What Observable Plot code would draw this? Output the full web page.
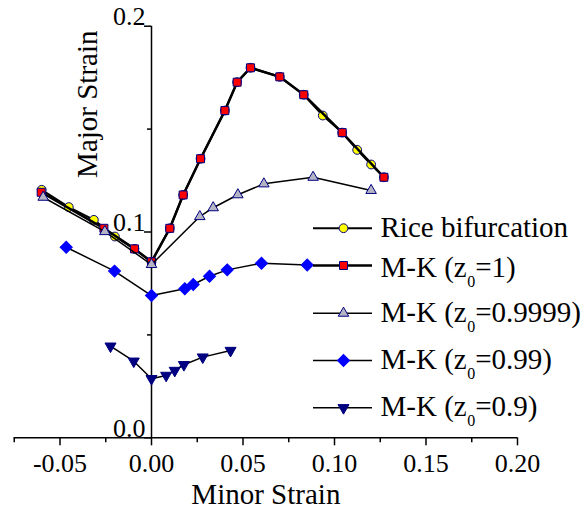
<!DOCTYPE html>
<html><head><meta charset="utf-8">
<script src="https://cdn.jsdelivr.net/npm/d3@7"></script>
<script src="https://cdn.jsdelivr.net/npm/@observablehq/plot@0.6"></script>
<style>
body{margin:0;background:#fff;font-family:'Liberation Serif',serif}
#wrap{position:relative;width:588px;height:513px;background:#fff}
</style>
</head><body><div id="wrap"></div>
<script>
// ---- data (minor strain x, major strain y) ----
const riceX = [-0.0600,-0.0452,-0.0315,-0.0200,-0.0093,0.0000,0.0100,0.0173,0.0268,0.0401,0.0468,0.0541,0.0701,0.0832,0.0936,0.1042,0.1124,0.1200,0.1270];
const riceY = [0.1205,0.1121,0.1059,0.0978,0.0918,0.0855,0.1018,0.1180,0.1356,0.1590,0.1728,0.1798,0.1754,0.1667,0.1566,0.1483,0.1399,0.1328,0.1266];

const mk1X = [-0.0603,-0.0260,-0.0093,0.0000,0.0100,0.0173,0.0268,0.0401,0.0468,0.0541,0.0701,0.0832,0.1042,0.1270];
const mk1Y = [0.1193,0.1018,0.0918,0.0855,0.1018,0.1180,0.1356,0.1590,0.1728,0.1798,0.1754,0.1667,0.1483,0.1266];

const mk9999X = [-0.0592,-0.0255,0.0000,0.0264,0.0337,0.0472,0.0614,0.0883,0.1200];
const mk9999Y = [0.1169,0.1002,0.0842,0.1075,0.1118,0.1181,0.1234,0.1266,0.1202];

const mk99X = [-0.0466,-0.0202,0.0000,0.0182,0.0228,0.0317,0.0414,0.0601,0.0851];
const mk99Y = [0.0926,0.0810,0.0691,0.0724,0.0745,0.0785,0.0816,0.0848,0.0840];

const mk9X = [-0.0224,-0.0097,0.0000,0.0080,0.0127,0.0177,0.0280,0.0432];
const mk9Y = [0.0445,0.0372,0.0287,0.0303,0.0327,0.0355,0.0392,0.0424];

const xMajorTicks = [-0.05,0,0.05,0.10,0.15,0.20];
const xMinorTicks = [-0.075,-0.025,0.025,0.075,0.125,0.175];
const yMajorTicks = [0,0.1,0.2];
const yMinorTicks = [0.05,0.15];

// legend texts: [main, subscript, rest]
const legendNames = [["Rice bifurcation","",""],["M-K (z","0","=1)"],["M-K (z","0","=0.9999)"],["M-K (z","0","=0.99)"],["M-K (z","0","=0.9)"]];
const xLabel = "Minor Strain";
const yLabel = "Major Strain";

const rows = (xs, ys) => xs.map((x, i) => ({x, y: ys[i]}));
const NAVY = "#000080";
const font = "Liberation Serif";

const series = [
  {data: rows(riceX, riceY),     lw: 2.0, symbol: "circle",   r: 4.4, fill: "#ffff00", stroke: NAVY, rotate: 0},
  {data: rows(mk1X, mk1Y),       lw: 2.5, symbol: "square",   r: 4.5, fill: "#ff0000", stroke: NAVY, rotate: 0},
  {data: rows(mk9999X, mk9999Y), lw: 1.5, symbol: "triangle", r: 3.9, fill: "#b4b4c4", stroke: NAVY, rotate: 0},
  {data: rows(mk99X, mk99Y),     lw: 1.5, symbol: "square",   r: 4.8, fill: "#0000ff", stroke: "#0000ff", rotate: 45},
  {data: rows(mk9X, mk9Y),       lw: 1.5, symbol: "triangle", r: 4.1, fill: NAVY, stroke: NAVY, rotate: 180}
];

const seriesMarks = series.flatMap(s => [
  Plot.line(s.data, {x: "x", y: "y", stroke: "black", strokeWidth: s.lw}),
  Plot.dot(s.data, {x: "x", y: "y", symbol: s.symbol, r: s.r, fill: s.fill, stroke: s.stroke, strokeWidth: 1, rotate: s.rotate})
]);

// ---- legend, placed inside the plot (pixel layout converted to data units) ----
const W = 588, H = 513, ML = 13.75, MR = 71, MT = 25.7, MB = 75.7;
const XD = [-0.075, 0.2], YD = [0, 0.2];
const pxToX = px => XD[0] + (px - ML) * (XD[1] - XD[0]) / (W - MR - ML);
const pyToY = py => YD[0] + (H - MB - py) * (YD[1] - YD[0]) / (H - MB - MT);
const legendLayout = [
  {cy: 227.7, base: 236.7},
  {cy: 265.0, base: 276.0},
  {cy: 312.7, base: 321.0},
  {cy: 360.0, base: 368.3},
  {cy: 407.3, base: 415.0}
];
const ctx = document.createElement("canvas").getContext("2d");
const measure = (txt, size) => { ctx.font = `${size}px '${font}'`; return ctx.measureText(txt).width; };
const legendGraphicMarks = legendNames.flatMap((nm, i) => {
  const L = legendLayout[i], s = series[i];
  return [
    Plot.ruleY([{x1: pxToX(313), x2: pxToX(372), y: pyToY(L.cy)}], {x1: "x1", x2: "x2", y: "y", stroke: "black", strokeWidth: s.lw}),
    Plot.dot([{x: pxToX(343), y: pyToY(L.cy)}], {x: "x", y: "y", symbol: s.symbol, r: s.r, fill: s.fill, stroke: s.stroke, strokeWidth: 1, rotate: s.rotate})
  ];
});
const legendTextMarks = legendNames.flatMap((nm, i) => {
  const L = legendLayout[i];
  const marks = [
    Plot.text([nm[0]], {x: pxToX(380), y: pyToY(L.base), text: d => d, textAnchor: "start", lineAnchor: "bottom", fontSize: 29, fontFamily: font, fill: "black"})
  ];
  if (nm[1]) {
    const w0 = measure(nm[0], 29), w1 = measure(nm[1], 16);
    marks.push(Plot.text([nm[1]], {x: pxToX(380 + w0 + 0.5), y: pyToY(L.base + 10), text: d => d, textAnchor: "start", lineAnchor: "bottom", fontSize: 16, fontFamily: font, fill: "black"}));
    marks.push(Plot.text([nm[2]], {x: pxToX(380 + w0 + w1 + 0.5), y: pyToY(L.base), text: d => d, textAnchor: "start", lineAnchor: "bottom", fontSize: 29, fontFamily: font, fill: "black"}));
  }
  return marks;
});

const chart = Plot.plot({
  width: W, height: H,
  marginLeft: ML, marginRight: MR, marginTop: MT, marginBottom: MB,
  x: {domain: XD, axis: null},
  y: {domain: YD, axis: null},
  marks: [
    // axes lines and ticks
    Plot.ruleY([0], {stroke: "black", strokeWidth: 1.5}),
    Plot.ruleX([0], {stroke: "black", strokeWidth: 1.5}),
    Plot.ruleX(xMajorTicks, {y1: 0, y2: 0, insetTop: 0, insetBottom: -8, stroke: "black", strokeWidth: 1.5}),
    Plot.ruleX(xMinorTicks, {y1: 0, y2: 0, insetTop: 0, insetBottom: -5, stroke: "black", strokeWidth: 1.5}),
    Plot.ruleY(yMajorTicks, {x1: 0, x2: 0, insetLeft: -7, insetRight: 0, stroke: "black", strokeWidth: 1.5}),
    Plot.ruleY(yMinorTicks, {x1: 0, x2: 0, insetLeft: -4, insetRight: 0, stroke: "black", strokeWidth: 1.5}),
    // data
    ...seriesMarks,
    ...legendGraphicMarks,
    // all texts last
    Plot.text(xMajorTicks, {x: d => d, y: 0, text: d => d.toFixed(2), textAnchor: "middle", lineAnchor: "top",
      dy: 16, fontSize: 26, fontFamily: font, fill: "black"}),
    Plot.text(yMajorTicks, {x: 0, y: d => d, text: d => d.toFixed(1), textAnchor: "end", lineAnchor: "bottom",
      dx: -6, dy: -1, fontSize: 26, fontFamily: font, fill: "black"}),
    Plot.text([xLabel], {text: d => d, frameAnchor: "bottom", textAnchor: "middle", lineAnchor: "bottom",
      dy: 66, fontSize: 29, fontFamily: font, fill: "black"}),
    Plot.text([yLabel], {text: d => d, frameAnchor: "top-left", textAnchor: "middle", rotate: -90, lineAnchor: "bottom",
      dx: 83, dy: 78, fontSize: 29, fontFamily: font, fill: "black"}),
    ...legendTextMarks
  ]
});
chart.setAttribute("font-family", font);
document.getElementById("wrap").appendChild(chart);
</script>
</body></html>
